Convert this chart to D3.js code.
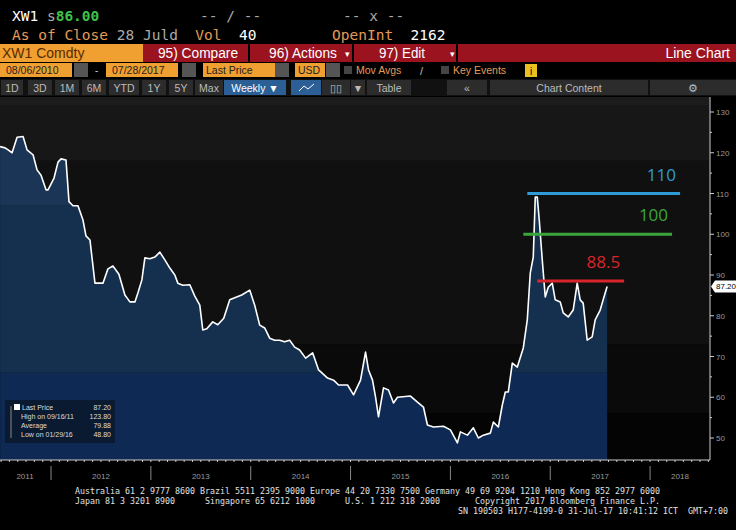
<!DOCTYPE html>
<html>
<head>
<meta charset="utf-8">
<style>
  body { margin: 0; background: #000; overflow: hidden; }
  svg { display: block; font-family: "DejaVu Sans Mono", monospace; }
  text { white-space: pre; }
  .hdr { font-family: "DejaVu Sans Mono", monospace; font-size: 14.5px; }
  .bar { font-family: "Liberation Sans", Arial, sans-serif; }
  .axis text { fill: #9a9a9a; font-size: 8px; font-family: "Liberation Sans", Arial; }
  .foot { fill: #e0e0e0; font-size: 8px; }
</style>
<script src="https://d3js.org/d3.v7.min.js"></script>
</head>
<body>
<script>
// weekly close (decimal year, price)
const years = [2011.49,2011.54,2011.57,2011.61,2011.66,2011.72,2011.76,2011.82,2011.86,2011.90,2011.95,2011.97,
  2012.03,2012.07,2012.10,2012.15,2012.18,2012.22,2012.27,2012.32,2012.35,2012.39,2012.44,2012.47,2012.52,2012.57,
  2012.62,2012.68,2012.74,2012.79,2012.84,2012.87,2012.91,2012.94,2012.99,2013.04,2013.09,2013.14,2013.19,2013.24,
  2013.27,2013.32,2013.39,2013.44,2013.49,2013.52,2013.56,2013.62,2013.67,2013.73,2013.79,2013.84,2013.91,2013.99,
  2014.04,2014.09,2014.14,2014.19,2014.24,2014.29,2014.34,2014.39,2014.44,2014.49,2014.55,2014.62,2014.68,2014.77,
  2014.83,2014.88,2014.97,2015.03,2015.10,2015.15,2015.18,2015.22,2015.25,2015.28,2015.33,2015.38,2015.43,2015.47,
  2015.60,2015.67,2015.73,2015.77,2015.83,2015.93,2016.00,2016.07,2016.10,2016.17,2016.23,2016.28,2016.33,2016.40,
  2016.43,2016.48,2016.52,2016.55,2016.58,2016.62,2016.67,2016.73,2016.77,2016.80,2016.83,2016.85,2016.87,2016.89,
  2016.92,2016.95,2016.98,2017.02,2017.05,2017.10,2017.13,2017.18,2017.23,2017.27,2017.30,2017.33,2017.37,2017.42,
  2017.45,2017.50,2017.55,2017.57];
const prices = [121.5,121.2,120.7,120.0,123.8,124.0,120.7,119.5,115.8,114.5,110.9,110.9,
  113.8,117.7,118.5,118.2,108.0,107.0,107.0,103.5,99.6,98.6,88.0,88.0,88.0,91.5,
  92.2,90.2,85.1,83.4,83.4,85.6,88.8,94.2,94.0,94.4,95.6,93.7,91.7,90.0,
  88.0,87.5,87.6,84.8,82.6,76.5,76.8,78.5,77.8,79.4,83.9,84.4,85.1,86.3,
  82.6,77.7,77.0,74.5,74.0,74.0,73.6,74.0,72.3,71.6,69.6,70.9,66.7,64.7,
  64.2,63.0,63.0,60.6,64.2,71.1,66.7,64.2,60.1,55.2,62.3,61.8,58.6,60.0,
  60.3,58.8,57.6,53.2,52.7,52.9,52.0,48.8,51.5,50.7,52.5,50.0,50.7,51.2,
  53.9,52.7,58.1,61.3,61.3,68.4,67.4,72.1,79.0,90.5,94.4,109.1,109.1,103.5,
  93.7,84.6,87.0,88.0,83.9,83.4,80.7,79.7,81.4,88.0,83.9,83.1,74.0,74.8,
  79.0,81.4,85.6,87.2];
const yearLabels = [2011,2012,2013,2014,2015,2016,2017,2018];
const priceTicks = [50,60,70,80,90,100,110,120,130];
const levels = [110, 100, 88.5];
const levelStart = [2016.77, 2016.73, 2016.87];
const levelEnd = [2018.3, 2018.22, 2017.74];
const levelColors = ["#2e9ad6", "#3aa63a", "#d8252b"];
const legendRows = [["Last Price","87.20"],["High on 09/16/11","123.80"],["Average","79.88"],["Low on 01/29/16","48.80"]];

const W = 736, H = 530;
const svg = d3.select("body").append("svg").attr("width", W).attr("height", H);
svg.append("rect").attr("width", W).attr("height", H).attr("fill", "#000");

// ---- header ----
const hdr = svg.append("text").attr("class", "hdr").attr("x", 12).attr("y", 21);
hdr.append("tspan").attr("fill", "#fff").text("XW1 ");
hdr.append("tspan").attr("fill", "#aaa").text("s");
hdr.append("tspan").attr("fill", "#3fc04a").attr("font-weight", "bold").text("86.00");
svg.append("text").attr("class", "hdr").attr("x", 200).attr("y", 21).attr("fill", "#aaa").text("-- / --");
svg.append("text").attr("class", "hdr").attr("x", 343).attr("y", 21).attr("fill", "#aaa").text("-- x --");
const h2 = svg.append("text").attr("class", "hdr").attr("x", 12).attr("y", 40);
h2.append("tspan").attr("fill", "#e49a55").text("As of Close ");
h2.append("tspan").attr("fill", "#aaa").text("28 Juld  ");
h2.append("tspan").attr("fill", "#e49a55").text("Vol  ");
h2.append("tspan").attr("fill", "#fff").text("40");
const h3 = svg.append("text").attr("class", "hdr").attr("x", 332).attr("y", 40);
h3.append("tspan").attr("fill", "#e49a55").text("OpenInt  ");
h3.append("tspan").attr("fill", "#fff").text("2162");

// red command bar
svg.append("rect").attr("x", 0).attr("y", 44).attr("width", W).attr("height", 18).attr("fill", "#9c1320");
svg.append("rect").attr("x", 0).attr("y", 44).attr("width", 143).attr("height", 18).attr("fill", "#f0a030");
[[248],[352],[456]].forEach(d => svg.append("rect").attr("x", d[0]).attr("y", 44).attr("width", 2).attr("height", 18).attr("fill", "#000"));
const bar = [[2, "XW1 Comdty", "#5a2a00", "start", 0], [158, "95) Compare", "#fff", "start", 80], [269, "96) Actions", "#fff", "start", 68],
  [379, "97) Edit", "#fff", "start", 46], [730, "Line Chart", "#fff", "end", 0]];
bar.forEach(b => {
  const t = svg.append("text").attr("class", "bar").attr("x", b[0]).attr("y", 58).attr("font-size", 14)
    .attr("fill", b[2]).attr("text-anchor", b[3]).text(b[1]);
  if (b[4]) t.attr("textLength", b[4]).attr("lengthAdjust", "spacingAndGlyphs");
});
[[345],[450]].forEach(d => svg.append("text").attr("class", "bar").attr("x", d[0]).attr("y", 57).attr("font-size", 9).attr("fill", "#fff").text("\u25BE"));

// date row
const dateRow = [[0, 72, "08/06/2010"], [106, 72, "07/28/2017"], [203, 72, "Last Price"], [295, 30, "USD"]];
dateRow.forEach(d => {
  svg.append("rect").attr("x", d[0]).attr("y", 63).attr("width", d[1]).attr("height", 14).attr("fill", "#f0a030");
  svg.append("text").attr("class", "bar").attr("x", d[0] + (d[2][0] === "0" ? 6 : 3)).attr("y", 74)
    .attr("font-size", 10.5).attr("fill", "#222").text(d[2]);
});
[[74],[182],[275],[326]].forEach(d => svg.append("rect").attr("x", d[0]).attr("y", 63).attr("width", 14).attr("height", 14).attr("fill", "#555"));
svg.append("text").attr("class", "bar").attr("x", 95).attr("y", 74).attr("font-size", 10).attr("fill", "#ccc").text("-");
svg.append("rect").attr("x", 344).attr("y", 66).attr("width", 8).attr("height", 8).attr("fill", "#444");
svg.append("text").attr("class", "bar").attr("x", 356).attr("y", 74).attr("font-size", 10.5).attr("fill", "#e49a55").text("Mov Avgs");
svg.append("text").attr("class", "bar").attr("x", 420).attr("y", 75).attr("font-size", 11).attr("fill", "#bbb").text("/");
svg.append("rect").attr("x", 441).attr("y", 66).attr("width", 8).attr("height", 8).attr("fill", "#444");
svg.append("text").attr("class", "bar").attr("x", 453).attr("y", 74).attr("font-size", 10.5).attr("fill", "#e49a55").text("Key Events");
svg.append("rect").attr("x", 525).attr("y", 64).attr("width", 12).attr("height", 13).attr("fill", "#e8c020");
svg.append("text").attr("class", "bar").attr("x", 531).attr("y", 75).attr("font-size", 10).attr("fill", "#000").attr("text-anchor", "middle").text("i");

// button row
svg.append("rect").attr("x", 0).attr("y", 79).attr("width", W).attr("height", 17).attr("fill", "#111");
const btns = [[1, 22, "1D"], [28, 24, "3D"], [55, 24, "1M"], [82, 24, "6M"], [109, 30, "YTD"], [142, 24, "1Y"], [169, 24, "5Y"],
  [195, 28, "Max"], [224, 62, "Weekly \u25BC"], [291, 30, ""], [322, 28, "\u25AF\u25AF"], [351, 14, "\u25BC"], [367, 44, "Table"],
  [447, 40, "\u00AB"], [490, 158, "Chart Content"], [650, 86, "\u2699"]];
btns.forEach(b => {
  const sel = b[2].startsWith("Weekly") || b[2] === "";
  svg.append("rect").attr("x", b[0]).attr("y", 80).attr("width", b[1]).attr("height", 15)
    .attr("fill", sel ? "#2b5f95" : "#2c2c2c");
  svg.append("text").attr("class", "bar").attr("x", b[0] + b[1] / 2).attr("y", 91.5).attr("text-anchor", "middle")
    .attr("font-size", 10.5).attr("fill", sel ? "#fff" : "#bbb").text(b[2]);
});
svg.append("path").attr("d", "M299,91 L304,86 L308,89 L314,84").attr("stroke", "#fff").attr("fill", "none");

// ---- chart ----
const x = d3.scaleLinear().domain([2011.489, 2018.6]).range([0, 710]);
const y = d3.scaleLinear().domain([50, 130]).range([438, 112]);
const plotTop = 97, plotBottom = 460;

// background bands
const bands = [[150, 131.5, "#1c1c1c"], [131.5, 118, "#171717"], [118, 73, "#101010"], [73, 56, "#0a0a0a"], [56, 40, "#040404"]];
bands.forEach(b => svg.append("rect").attr("x", 0).attr("width", 710)
  .attr("y", Math.max(plotTop, y(b[0]))).attr("height", Math.min(plotBottom, y(b[1])) - Math.max(plotTop, y(b[0]))).attr("fill", b[2]));

const data = years.map((t, i) => [t, prices[i]]);
svg.append("defs").append("clipPath").attr("id", "under")
  .append("path").attr("d", d3.area().x(d => x(d[0])).y0(plotBottom).y1(d => y(d[1]))(data));
const blues = [[140, 107, "#1b3556"], [107, 66, "#15304f"], [66, 40, "#0e2953"]];
blues.forEach(b => svg.append("rect").attr("clip-path", "url(#under)").attr("x", 0).attr("width", 710)
  .attr("y", Math.max(plotTop, y(b[0]))).attr("height", Math.min(plotBottom, y(b[1])) - Math.max(plotTop, y(b[0]))).attr("fill", b[2]));

svg.append("path").datum(data).attr("fill", "none").attr("stroke", "#fff").attr("stroke-width", 1.6)
  .attr("stroke-linejoin", "round").attr("d", d3.line().x(d => x(d[0])).y(d => y(d[1])));

// level lines
levels.forEach((v, i) => {
  svg.append("line").attr("x1", x(levelStart[i])).attr("x2", x(levelEnd[i])).attr("y1", y(v)).attr("y2", y(v))
    .attr("stroke", levelColors[i]).attr("stroke-width", 3);
  svg.append("text").attr("x", x(levelEnd[i]) - 4).attr("y", y(v) - 13).attr("text-anchor", "end")
    .attr("font-family", "Open Sans, sans-serif").attr("font-size", 17).attr("fill", levelColors[i]).text(v);
});

// right axis
const ax = svg.append("g").attr("class", "axis").attr("transform", "translate(710,0)");
ax.append("line").attr("y1", plotTop).attr("y2", plotBottom).attr("stroke", "#ccc");
d3.range(50, 131, 5).forEach(v => ax.append("line").attr("x1", 0).attr("x2", v % 10 ? 2 : 4)
  .attr("y1", y(v)).attr("y2", y(v)).attr("stroke", "#ccc"));
priceTicks.forEach(v => ax.append("text").attr("x", 6).attr("y", y(v) + 3).text(v));
const last = prices[prices.length - 1];
ax.append("path").attr("d", `M1,${y(last)} L5,${y(last) - 6} L27,${y(last) - 6} L27,${y(last) + 6} L5,${y(last) + 6} Z`).attr("fill", "#fff");
ax.append("text").attr("x", 6).attr("y", y(last) + 3).style("fill", "#000").text(last.toFixed(2));

// bottom axis
const bx = svg.append("g").attr("class", "axis");
bx.append("line").attr("x1", 0).attr("x2", 710).attr("y1", plotBottom).attr("y2", plotBottom).attr("stroke", "#ccc");
d3.range(2011.5, 2018.6, 1 / 12).forEach(t => bx.append("line").attr("x1", x(t)).attr("x2", x(t))
  .attr("y1", plotBottom).attr("y2", plotBottom + 2).attr("stroke", "#ccc"));
yearLabels.forEach(yr => {
  if (yr > 2011) bx.append("line").attr("x1", x(yr)).attr("x2", x(yr)).attr("y1", plotBottom + 6).attr("y2", plotBottom + 20).attr("stroke", "#888");
  const cx = yr === 2011 ? 25 : yr === 2018 ? 680 : x(yr + 0.5);
  bx.append("text").attr("x", cx).attr("y", 479).attr("text-anchor", "middle").attr("font-size", 7).text(yr);
});

// legend
const lg = svg.append("g").attr("transform", "translate(5,400)");
lg.append("rect").attr("width", 110).attr("height", 43).attr("fill", "#0a1a30");
lg.append("rect").attr("x", 9).attr("y", 4).attr("width", 6).attr("height", 6).attr("fill", "#fff");
legendRows.forEach((r, i) => {
  lg.append("text").attr("x", i ? 16 : 17).attr("y", 10 + i * 9).attr("font-size", 7).attr("fill", "#ddd")
    .attr("font-family", "Liberation Sans, Arial").text(r[0]);
  lg.append("text").attr("x", 106).attr("y", 10 + i * 9).attr("font-size", 7).attr("fill", "#ddd")
    .attr("text-anchor", "end").attr("font-family", "Liberation Sans, Arial").text(r[1]);
});
lg.append("line").attr("x1", 6).attr("x2", 6).attr("y1", 6).attr("y2", 38).attr("stroke", "#888");

// footer
const foot = [[75, 494, "Australia 61 2 9777 8600 Brazil 5511 2395 9000 Europe 44 20 7330 7500 Germany 49 69 9204 1210 Hong Kong 852 2977 6000", 585],
  [75, 504, "Japan 81 3 3201 8900      Singapore 65 6212 1000      U.S. 1 212 318 2000       Copyright 2017 Bloomberg Finance L.P.", 585],
  [458, 514, "SN 190503 H177-4199-0 31-Jul-17 10:41:12 ICT  GMT+7:00", 270]];
foot.forEach(f => svg.append("text").attr("class", "foot").attr("x", f[0]).attr("y", f[1])
  .attr("textLength", f[3]).attr("lengthAdjust", "spacingAndGlyphs").text(f[2]));
</script>
</body>
</html>
